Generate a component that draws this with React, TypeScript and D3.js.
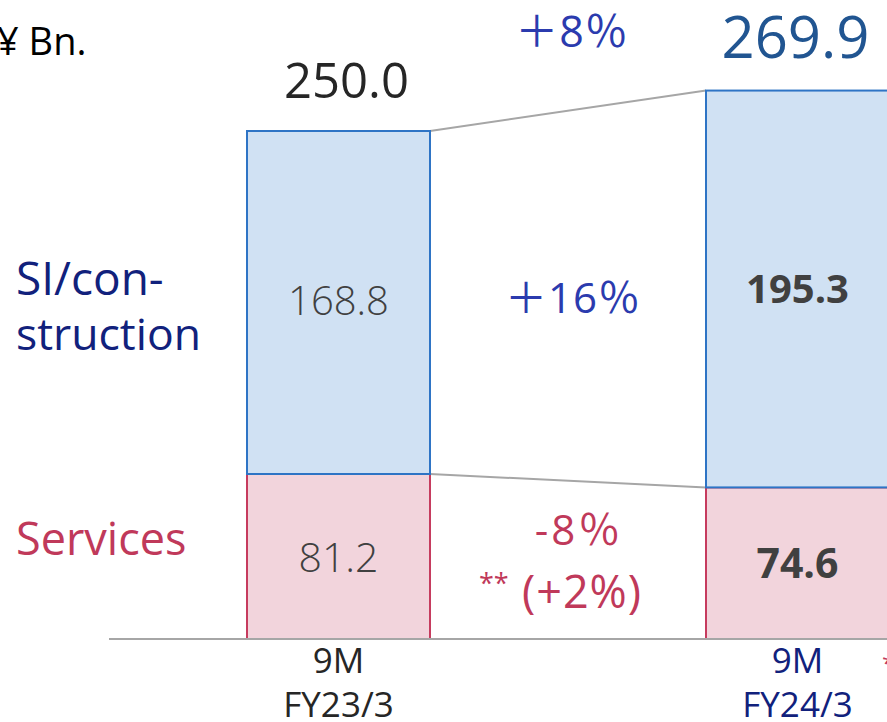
import React from "react";
import * as d3 from "d3";

const categories = ["FY23/3", "FY24/3"];
const periodLabel = ["9M", "9M"];
const siValues = [168.8, 195.3];
const servicesValues = [81.2, 74.6];
const totalLabels = ["250.0", "269.9"];
const siLabels = ["168.8", "195.3"];
const servicesLabels = ["81.2", "74.6"];
const totalGrowth = "＋8％";
const siGrowth = "＋16％";
const servicesGrowth = "-8％";
const servicesGrowthAdj = "(+2%)";

const W = 887;
const H = 722;
const FONT = "'Open Sans', 'Noto Sans CJK JP', sans-serif";

const C = {
  siFill: "#d0e1f3",
  siStroke: "#2e74c5",
  svFill: "#f2d4dc",
  svStroke: "#c63b5e",
  navy: "#11217c",
  blue: "#2b3bae",
  red: "#c0395a",
  gray: "#a6a6a6",
  dark: "#262626",
  val: "#404040",
  totalBlue: "#215591",
};

export default function App() {
  const x = d3
    .scaleBand<string>()
    .domain(categories)
    .range([247, 889])
    .paddingInner(276 / 459)
    .paddingOuter(0);
  const y = d3.scaleLinear().domain([0, 300]).range([639, 639 - 300 * 2.032]);
  const bw = x.bandwidth();

  const stack = categories.map((c, i) => ({
    c,
    x0: x(c) as number,
    cx: (x(c) as number) + bw / 2,
    yBase: y(0),
    ySv: y(servicesValues[i]),
    yTop: y(servicesValues[i] + siValues[i]),
  }));
  const [a, b] = stack;
  const midX = (a.x0 + bw + b.x0) / 2;

  return (
    <svg
      width={W}
      height={H}
      style={{ position: "absolute", left: 0, top: 0, display: "block" }}
      fontFamily={FONT}
    >
      <rect width={W} height={H} fill="#fff" />
      {/* connectors */}
      <line x1={a.x0 + bw} y1={a.yTop} x2={b.x0} y2={b.yTop} stroke={C.gray} strokeWidth={2} />
      <line x1={a.x0 + bw} y1={a.ySv} x2={b.x0} y2={b.ySv} stroke={C.gray} strokeWidth={2} />
      {/* bars */}
      {stack.map((s) => (
        <g key={s.c}>
          <rect x={s.x0} y={s.ySv} width={bw} height={s.yBase - s.ySv} fill={C.svFill} stroke={C.svStroke} strokeWidth={2} />
          <rect x={s.x0} y={s.yTop} width={bw} height={s.ySv - s.yTop} fill={C.siFill} stroke={C.siStroke} strokeWidth={2} />
        </g>
      ))}
      {/* baseline */}
      <line x1={109} x2={W} y1={y(0)} y2={y(0)} stroke={C.gray} strokeWidth={2} />

      {/* unit */}
      <text x={-3} y={55} fontSize={38} fill="#000">¥ Bn.</text>

      {/* totals */}
      <text x={a.cx + 8} y={98} fontSize={49} fill={C.dark} textAnchor="middle">{totalLabels[0]}</text>
      <text x={b.cx - 2} y={58} fontSize={58} fill={C.totalBlue} textAnchor="middle">{totalLabels[1]}</text>
      <text x={midX + 4} y={47} fontSize={43} fill={C.blue} textAnchor="middle" letterSpacing={1}>{totalGrowth}</text>

      {/* segment labels */}
      <text x={a.cx} y={315} fontSize={40} fontWeight={300} fill={C.val} textAnchor="middle">{siLabels[0]}</text>
      <text x={a.cx} y={572} fontSize={41} fontWeight={300} fill={C.val} textAnchor="middle">{servicesLabels[0]}</text>
      <text x={b.cx} y={303} fontSize={40} fontWeight={700} fill={C.val} textAnchor="middle">{siLabels[1]}</text>
      <text x={b.cx} y={578} fontSize={41} fontWeight={700} fill={C.val} textAnchor="middle">{servicesLabels[1]}</text>

      {/* growth */}
      <text x={midX + 5} y={313} fontSize={42} fill={C.blue} textAnchor="middle" letterSpacing={1}>{siGrowth}</text>
      <text x={midX + 11} y={545} fontSize={42} fill={C.red} textAnchor="middle" letterSpacing={3}>{servicesGrowth}</text>
      <text x={479} y={593} fontSize={27} fill={C.red}>**</text>
      <text x={582} y={608} fontSize={45} fill={C.red} textAnchor="middle" letterSpacing={1}>{servicesGrowthAdj}</text>

      {/* segment names */}
      <text x={16} y={295} fontSize={46} fill={C.navy}>SI/con-</text>
      <text x={16} y={350} fontSize={44.5} fill={C.navy}>struction</text>
      <text x={16} y={555} fontSize={45} fill={C.red}>Services</text>

      {/* x labels */}
      {stack.map((s, i) => (
        <g key={"l" + s.c} fill={i === 0 ? C.dark : C.navy} fontSize={35}>
          <text x={s.cx} y={673} textAnchor="middle">{periodLabel[i]}</text>
          <text x={s.cx} y={717} textAnchor="middle">{categories[i]}</text>
        </g>
      ))}
      <text x={882} y={672} fontSize={24} fill={C.red}>**</text>
    </svg>
  );
}
